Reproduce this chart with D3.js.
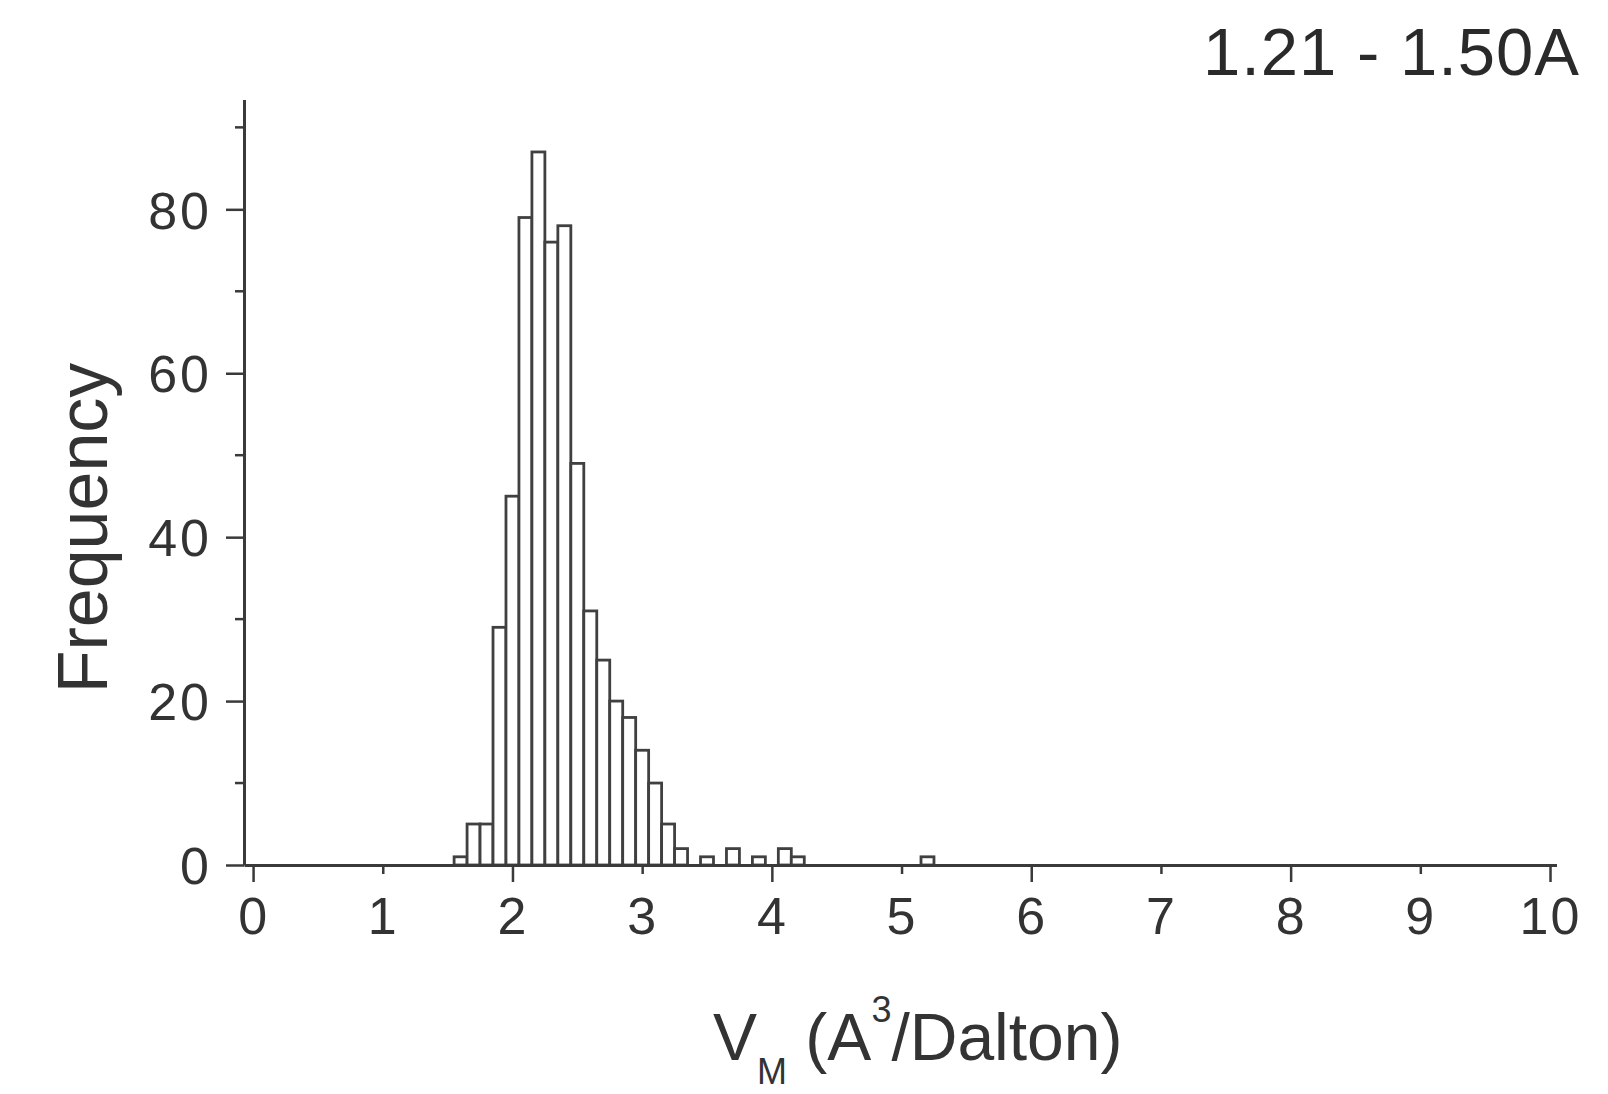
<!DOCTYPE html>
<html>
<head>
<meta charset="utf-8">
<script src="https://cdn.jsdelivr.net/npm/d3@7"></script>
<style>
  body { margin: 0; background: #fff; }
  svg { display: block; font-family: "Liberation Sans", Arial, sans-serif; }
  .axis path, .axis line { stroke: #3a3a3a; }
  .axis text { fill: #333; }
  .bar { fill: #fff; stroke: #404040; stroke-width: 2.8; }
</style>
</head>
<body>
<svg id="vis"></svg>
<script>
const width = 1608;
const height = 1094;

// histogram bins (centre of each 0.1-wide bin) and counts
const binCenters = [1.6, 1.7, 1.8, 1.9, 2.0, 2.1, 2.2, 2.3, 2.4, 2.5, 2.6, 2.7,
  2.8, 2.9, 3.0, 3.1, 3.2, 3.3, 3.5, 3.7, 3.9, 4.1, 4.2, 5.2];
const counts = [1, 5, 5, 29, 45, 79, 87, 76, 78, 49, 31, 25,
  20, 18, 14, 10, 5, 2, 1, 2, 1, 2, 1, 1];
const binWidth = 0.1;

const xTicks = [0, 1, 2, 3, 4, 5, 6, 7, 8, 9, 10];
const yMajor = [0, 20, 40, 60, 80];
const yMinor = [10, 30, 50, 70, 90];

const title = "1.21 - 1.50A";

const svg = d3.select("#vis")
  .attr("width", width)
  .attr("height", height);

const x = d3.scaleLinear().domain([-0.07, 10.05]).range([244, 1556.5]);
const y = d3.scaleLinear().domain([0, 93.4]).range([865, 99.5]);

// bars
const bars = binCenters.map((c, i) => ({ c: c, n: counts[i] }));
svg.append("g").selectAll("rect.bar")
  .data(bars)
  .enter()
  .append("rect")
  .attr("class", "bar")
  .attr("x", d => x(d.c - binWidth / 2))
  .attr("width", d => x(d.c + binWidth / 2) - x(d.c - binWidth / 2))
  .attr("y", d => y(d.n))
  .attr("height", d => y(0) - y(d.n));

// x axis: labels at every integer, long ticks on even, short on odd
const xAxis = svg.append("g")
  .attr("class", "axis")
  .attr("transform", "translate(0," + y(0) + ")")
  .call(d3.axisBottom(x).tickValues(xTicks).tickSize(17).tickSizeOuter(0).tickPadding(15));
xAxis.select(".domain").attr("stroke-width", 3);
xAxis.selectAll(".tick line")
  .attr("stroke-width", 2.5)
  .attr("y2", d => d % 2 === 0 ? 17 : 9);
xAxis.selectAll(".tick text")
  .style("font-size", "52px")
  .style("letter-spacing", "2px")
  .attr("dy", "0.72em");

// y axis
const yAxis = svg.append("g")
  .attr("class", "axis")
  .attr("transform", "translate(" + x.range()[0] + ",0)")
  .call(d3.axisLeft(y).tickValues(yMajor).tickSize(18).tickSizeOuter(0).tickPadding(14));
yAxis.select(".domain").attr("stroke-width", 3);
yAxis.selectAll(".tick line").attr("stroke-width", 2.5);
yAxis.selectAll(".tick text")
  .style("font-size", "52px")
  .style("letter-spacing", "3px")
  .attr("dy", "0.36em");

yAxis.selectAll("line.minor")
  .data(yMinor)
  .enter()
  .append("line")
  .attr("class", "minor")
  .attr("x1", -9)
  .attr("x2", 0)
  .attr("y1", d => y(d))
  .attr("y2", d => y(d))
  .attr("stroke-width", 2.5);

// axis titles
svg.append("text")
  .attr("transform", "translate(107,528) rotate(-90)")
  .attr("text-anchor", "middle")
  .style("font-size", "70px")
  .style("fill", "#333")
  .text("Frequency");

const xlab = svg.append("text")
  .attr("x", 713)
  .attr("y", 1060)
  .style("font-size", "66px")
  .style("fill", "#333");
xlab.append("tspan").text("V");
xlab.append("tspan").attr("dy", 24).style("font-size", "36px").text("M");
xlab.append("tspan").attr("dy", -24).text(" (A");
xlab.append("tspan").attr("dy", -38).style("font-size", "36px").text("3");
xlab.append("tspan").attr("dy", 38).text("/Dalton)");

// resolution range label
svg.append("text")
  .attr("x", 1580)
  .attr("y", 75)
  .attr("text-anchor", "end")
  .style("font-size", "67px")
  .style("letter-spacing", "1px")
  .style("fill", "#2a2a2a")
  .text(title);
</script>
</body>
</html>
